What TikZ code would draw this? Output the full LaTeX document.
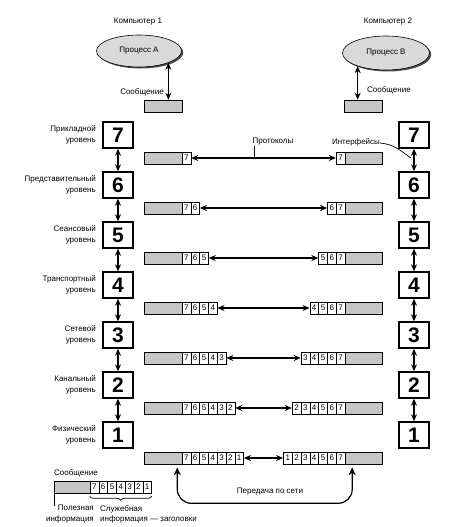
\documentclass[tikz,border=0pt]{standalone}
\usepackage{fontspec}
\setmainfont{Liberation Sans}
\usetikzlibrary{arrows.meta,shadows,shapes.geometric,decorations.pathreplacing,calc}
\begin{document}
\begin{tikzpicture}[x=1pt,y=-1pt,
  lbl/.style={font=\fontsize{8}{10.5}\selectfont, inner sep=0pt},
  layerbox/.style={draw, line width=1.4pt, minimum width=30pt, minimum height=26pt, inner sep=0pt, font=\fontsize{21}{21}\selectfont\bfseries, fill=white},
  graybar/.style={draw, line width=0.6pt, fill=gray!45, minimum width=38pt, minimum height=12pt, inner sep=0pt},
  cell/.style={draw, line width=0.6pt, fill=white, minimum width=8.8pt, minimum height=12pt, inner sep=0pt, font=\fontsize{8}{8}\selectfont},
  dbl/.style={{Stealth[length=7pt,width=6pt]}-{Stealth[length=7pt,width=6pt]}, line width=1.2pt},
  proc/.style={ellipse, draw, line width=0.6pt, fill=gray!30, inner sep=0pt, font=\fontsize{8}{9}\selectfont,
    drop shadow={shadow xshift=1.8pt, shadow yshift=-1.5pt, fill=gray!60!black, opacity=1}}
]
\useasboundingbox (0,0) rectangle (459,527);

% computers and processes
\node[lbl] (c1) at (138,22) {Компьютер 1};
\node[lbl] (c2) at (388,22) {Компьютер 2};
\node[proc, minimum width=85pt, minimum height=32pt] (procA) at (139,51) {Процесс А};
\node[proc, minimum width=87pt, minimum height=34pt] (procB) at (386,53) {Процесс В};
\node[graybar] (mA) at (163,106) {};
\node[graybar] (mB) at (363.5,106) {};
\node[lbl, anchor=east] (sA) at (164,92) {Сообщение};
\node[lbl, anchor=west] (sB) at (367,90) {Сообщение};
\draw[dbl] (procA.-22) -- (procA.-22 |- mA.north);
\draw[dbl] (procB.-155) -- (procB.-155 |- mB.north);

% layers
\foreach \L/\txt in {7/Прикладной, 6/Представительный, 5/Сеансовый, 4/Транспортный, 3/Сетевой, 2/Канальный, 1/Физический} {
  \pgfmathsetmacro\yc{135+50*(7-\L)}
  \node[layerbox] (bl-\L) at (118,\yc) {\L};
  \node[layerbox] (br-\L) at (414,\yc) {\L};
  \node[lbl, align=right, anchor=east] (t-\L) at (96,\yc) {\txt\\уровень};
}
\foreach \L [evaluate=\L as \M using int(\L-1)] in {7,...,2} {
  \draw[dbl] (bl-\L) -- (bl-\M);
  \draw[dbl] (br-\L) -- (br-\M);
}

% messages with headers
\foreach \L in {7,...,1} {
  \pgfmathsetmacro\yb{158+50*(7-\L)}
  \node[graybar] (lg-\L) at (163,\yb) {};
  \node[graybar] (rg-\L) at (363.5,\yb) {};
  \foreach \d in {7,...,\L} {
    \node[cell] (l-\L-\d) at ({182+8.8*(7.5-\d)},\yb) {\d};
    \node[cell] (r-\L-\d) at ({345-8.8*(7.5-\d)},\yb) {\d};
  }
  \draw[dbl] (l-\L-\L.east) -- (r-\L-\L.west);
}

% protocol / interface labels
\node[lbl] (proto) at (273,142) {Протоколы};
\coordinate (pt) at (254,158);
\draw[line width=0.7pt] (pt |- proto.south) -- (pt);
\node[lbl] (iface) at (356,142) {Интерфейсы};
\coordinate (ip) at (411,158);
\draw[line width=0.7pt] ([yshift=-1pt]iface.east) to[out=-5,in=145] (ip);

% network transmission
\node[lbl] (net) at (270,492) {Передача по сети};
\draw[{Stealth[length=8pt,width=7pt]}-{Stealth[length=8pt,width=7pt]}, line width=1.2pt, rounded corners=14pt]
  ([xshift=-5pt,yshift=-3pt]lg-1.south east) -- ++(0,36) -| ([xshift=8pt,yshift=-3pt]rg-1.south west);

% legend
\node[lbl, anchor=west] (msgL) at (54,473) {Сообщение};
\node[graybar, minimum width=36pt] (lgg) at (72,487) {};
\foreach \d in {7,...,1} {
  \node[cell] (g-\d) at ({90+8.8*(7.5-\d)},487) {\d};
}
\draw[line width=0.7pt, decorate, decoration={brace, amplitude=4pt, mirror}] ([yshift=-3pt]g-7.south west) -- ([yshift=-3pt]g-1.south east);
\draw[line width=0.7pt] ([xshift=1pt]lgg.south west) -- ++(0,13);
\node[lbl, align=right, anchor=north east] (useful) at (94,505) {Полезная\\информация};
\node[lbl, align=left, anchor=north west] (service) at (100,505) {Служебная\\информация — заголовки};
\end{tikzpicture}
\end{document}
